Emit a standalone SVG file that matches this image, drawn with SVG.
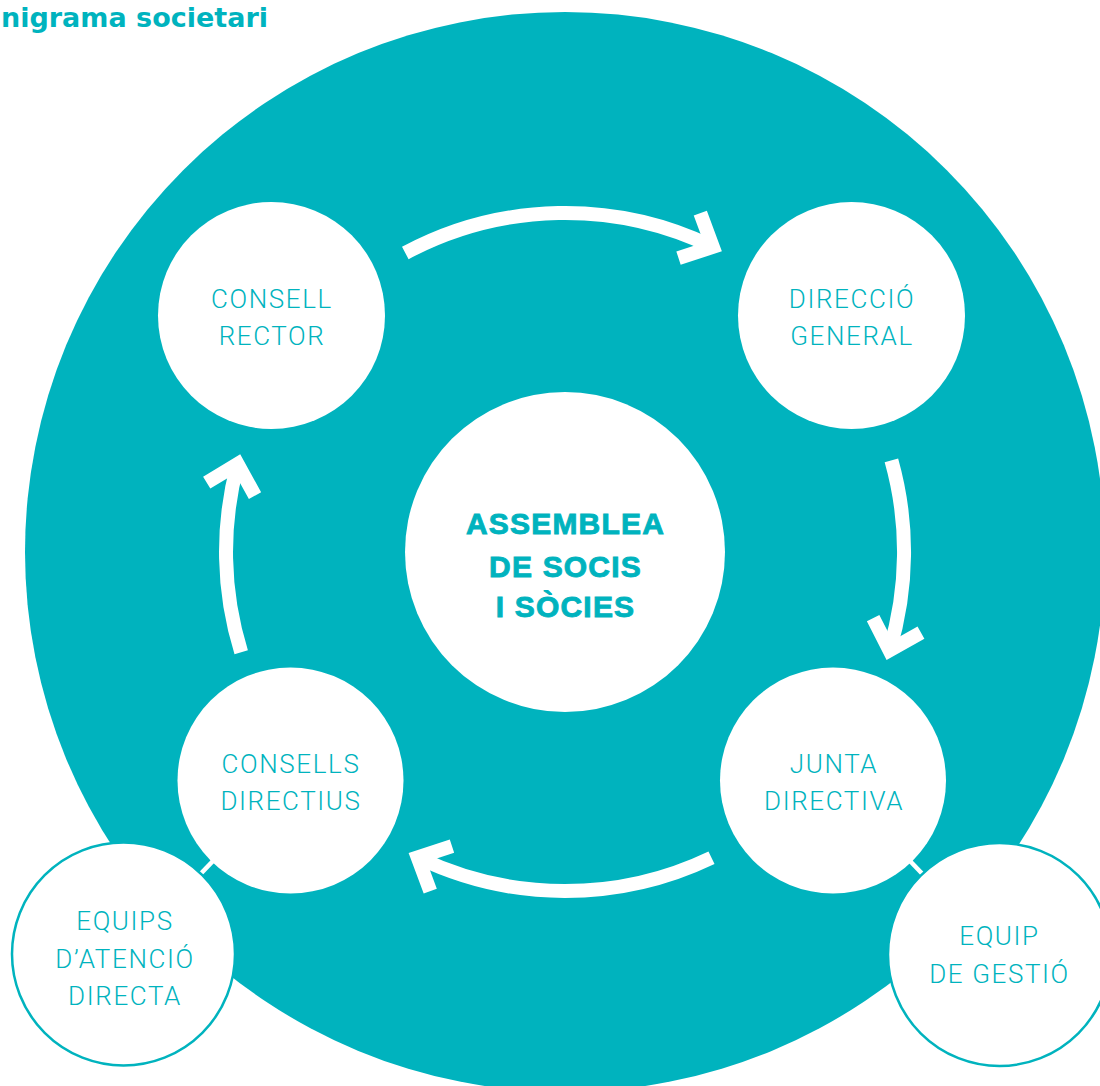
<svg xmlns="http://www.w3.org/2000/svg" width="1100" height="1086" viewBox="0 0 1100 1086">
  <style>
    .bg { fill: #00B3BE; }
    .node { fill: #ffffff; }
    .outline { fill: #ffffff; stroke: #00B3BE; stroke-width: 2.5; }
    .lbl { font-family: Roboto, "Liberation Sans", sans-serif; font-weight: 300; font-size: 26px; letter-spacing: 1.6px; fill: #00B3BE; text-anchor: middle; }
    .main { font-family: "Liberation Sans", Arial, sans-serif; font-weight: 700; font-size: 30px; letter-spacing: 1.2px; fill: #00B3BE; stroke: #00B3BE; stroke-width: 0.9px; text-anchor: middle; }
    .title { font-family: "DejaVu Sans", sans-serif; font-weight: 700; font-size: 27px; fill: #00B3BE; }
    .arc { fill: none; stroke: #ffffff; stroke-width: 14; stroke-linecap: butt; }
    .link { stroke: #ffffff; stroke-width: 4.5; }
  </style>
  <defs>
    <marker id="chev" markerUnits="userSpaceOnUse" orient="auto" markerWidth="80" markerHeight="80" viewBox="-40 -40 80 80" refX="0" refY="0" overflow="visible">
      <path d="M-26,-25 L0,0 L-26,25" fill="none" stroke="#ffffff" stroke-width="14" stroke-linejoin="miter" stroke-miterlimit="10" stroke-linecap="butt"/>
    </marker>
  </defs>

  <rect width="1100" height="1086" fill="#ffffff"/>
  <circle class="bg" cx="565" cy="552" r="540"/>

  <text class="title" x="1" y="27">nigrama societari</text>

  <g id="connectors">
    <line class="link" x1="290.5" y1="780.5" x2="123.5" y2="954"/>
    <line class="link" x1="833" y1="780.5" x2="999.5" y2="954.5"/>
    <path class="arc" d="M405.3,253 A339,339 0 0 1 712.8,246.9" marker-end="url(#chev)"/>
    <path class="arc" d="M891.4,460.3 A339,339 0 0 1 889.5,650.3" marker-end="url(#chev)"/>
    <path class="arc" d="M711.5,857.7 A339,339 0 0 1 417.7,857.3" marker-end="url(#chev)"/>
    <path class="arc" d="M241.2,652.2 A339,339 0 0 1 237.6,464" marker-end="url(#chev)"/>
  </g>

  <g id="assemblea">
    <circle class="node" cx="565" cy="552" r="160"/>
    <text class="main" x="565.5" y="533.5">ASSEMBLEA</text>
    <text class="main" x="565.5" y="576.5">DE SOCIS</text>
    <text class="main" x="565.5" y="617">I SÒCIES</text>
  </g>

  <g id="consell-rector">
    <circle class="node" cx="271.5" cy="315.5" r="113.5"/>
    <text class="lbl" x="272" y="308">CONSELL</text>
    <text class="lbl" x="272" y="345">RECTOR</text>
  </g>

  <g id="direccio-general">
    <circle class="node" cx="851.5" cy="315.5" r="113.5"/>
    <text class="lbl" x="852" y="308">DIRECCIÓ</text>
    <text class="lbl" x="852" y="345">GENERAL</text>
  </g>

  <g id="consells-directius">
    <circle class="node" cx="290.5" cy="780.5" r="113"/>
    <text class="lbl" x="291" y="773">CONSELLS</text>
    <text class="lbl" x="291" y="810">DIRECTIUS</text>
  </g>

  <g id="junta-directiva">
    <circle class="node" cx="833" cy="780.5" r="113"/>
    <text class="lbl" x="834" y="773">JUNTA</text>
    <text class="lbl" x="834" y="810">DIRECTIVA</text>
  </g>

  <g id="equips-atencio">
    <circle class="outline" cx="123.5" cy="954" r="111.5"/>
    <text class="lbl" x="125" y="930">EQUIPS</text>
    <text class="lbl" x="125" y="968">D’ATENCIÓ</text>
    <text class="lbl" x="125" y="1005">DIRECTA</text>
  </g>

  <g id="equip-gestio">
    <circle class="outline" cx="999.5" cy="954.5" r="111.5"/>
    <text class="lbl" x="999.5" y="945">EQUIP</text>
    <text class="lbl" x="999.5" y="983">DE GESTIÓ</text>
  </g>
</svg>
